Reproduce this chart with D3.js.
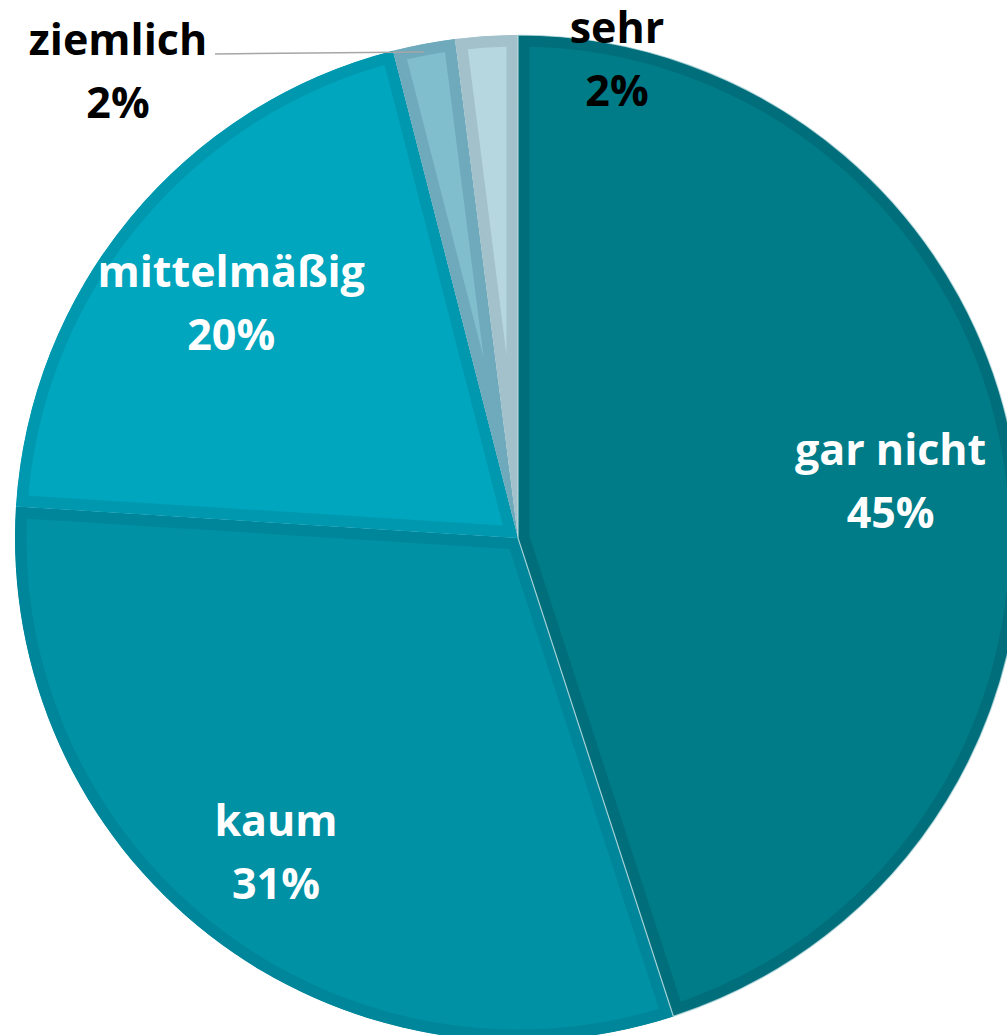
<!DOCTYPE html>
<html>
<head>
<meta charset="utf-8">
<script src="https://cdn.jsdelivr.net/npm/d3@7"></script>
<style>
  html, body { margin: 0; padding: 0; background: #fff; }
  svg { display: block; }
  text { font-family: "Open Sans", sans-serif; font-weight: 700; }
</style>
</head>
<body>
<div id="chart"></div>
<script>
const categories = ['gar nicht', 'kaum', 'mittelmäßig', 'ziemlich', 'sehr'];
const values = [45, 31, 20, 2, 2];
const fills = ['#007c88', '#0091a5', '#00a6bd', '#80bdcd', '#b6d7e0'];
const borders = ['#006f7b', '#00869a', '#0098af', '#6eaabb', '#a2c1cb'];
const labelColors = ['#fff', '#fff', '#fff', '#000', '#000'];

const width = 1007, height = 1035;
const cx = 518, cy = 538, radius = 503;

const svg = d3.select('#chart')
  .append('svg')
  .attr('width', width)
  .attr('height', height);

const g = svg.append('g')
  .attr('transform', `translate(${cx},${cy})`);

const data = categories.map((c, i) => ({ name: c, value: values[i], i }));

const pie = d3.pie()
  .value(d => d.value)
  .sort(null);

const arc = d3.arc()
  .innerRadius(0)
  .outerRadius(radius);

const arcs = pie(data);

const defs = svg.append('defs');
arcs.forEach((a, i) => {
  defs.append('clipPath')
    .attr('id', 'clip' + i)
    .append('path')
    .attr('d', arc(a));
});

// slices with inner border
g.selectAll('.slice')
  .data(arcs)
  .enter()
  .append('path')
  .attr('class', 'slice')
  .attr('d', arc)
  .attr('fill', d => fills[d.index])
  .attr('stroke', d => borders[d.index])
  .attr('stroke-width', 23)
  .attr('stroke-linejoin', 'round')
  .attr('clip-path', (d, i) => `url(#clip${i})`);

// thin light seam at the edge of the first slice
g.append('path')
  .attr('d', arc(arcs[0]))
  .attr('fill', 'none')
  .attr('stroke', '#c8e2e6')
  .attr('stroke-width', 1.2)
  .attr('opacity', 0.8);

// label anchors
const labelRadius = [0.75, 0.785, 0.74];
const lineGap = 63;

arcs.forEach((a, i) => {
  let x, y, anchor = 'middle';
  if (i < 3) {
    const mid = (a.startAngle + a.endAngle) / 2;
    [x, y] = d3.pointRadial(mid, radius * labelRadius[i]);
  } else if (i === 3) {
    // outside with leader line
    const mid = (a.startAngle + a.endAngle) / 2;
    const [px, py] = d3.pointRadial(mid, radius * 1.0);
    x = 118 - cx;
    y = 69 - cy;
    g.append('line')
      .attr('x1', x + 97).attr('y1', y - 15)
      .attr('x2', px).attr('y2', py + 8)
      .attr('stroke', '#a6a6a6')
      .attr('stroke-width', 1.5);
  } else {
    x = 617 - cx;
    y = 57 - cy;
  }
  const t = g.append('text')
    .attr('text-anchor', anchor)
    .attr('fill', labelColors[i])
    .attr('font-size', 43);
  t.append('tspan')
    .attr('x', x).attr('y', y - 14)
    .text(a.data.name);
  t.append('tspan')
    .attr('x', x).attr('y', y - 14 + lineGap)
    .text(a.data.value + '%');
});
</script>
</body>
</html>
